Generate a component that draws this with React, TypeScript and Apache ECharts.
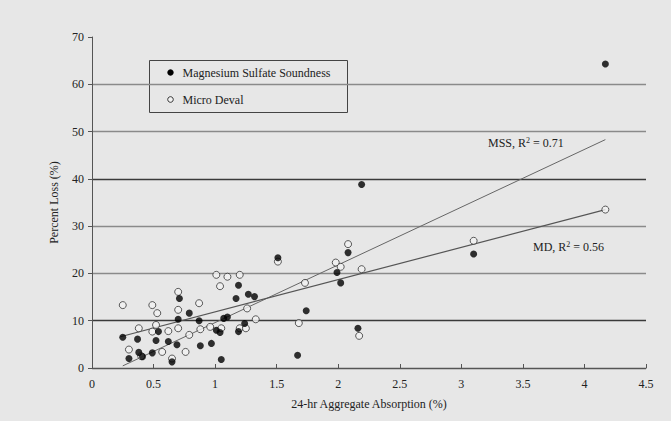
import React, { useEffect, useRef } from "react";
import * as echarts from "echarts";

// Magnesium Sulfate Soundness (filled) [absorption %, loss %]
const mssX = [0.25, 0.30, 0.37, 0.38, 0.41, 0.49, 0.52, 0.54, 0.62, 0.65, 0.69, 0.70, 0.71, 0.79, 0.87, 0.88, 0.97, 1.01, 1.04, 1.05, 1.07, 1.10, 1.17, 1.19, 1.19, 1.24, 1.27, 1.32, 1.51, 1.67, 1.74, 1.99, 2.02, 2.08, 2.16, 2.19, 3.10, 4.17];
const mssY = [6.5, 2.0, 6.1, 3.3, 2.4, 3.2, 5.8, 7.7, 5.6, 1.3, 4.9, 10.3, 14.7, 11.6, 10.0, 4.7, 5.2, 8.0, 7.5, 1.8, 10.5, 10.8, 14.7, 17.5, 7.7, 9.4, 15.6, 15.1, 23.3, 2.7, 12.1, 20.2, 18.0, 24.4, 8.4, 38.8, 24.1, 64.3];

// Micro Deval (open)
const mdX = [0.25, 0.30, 0.38, 0.40, 0.49, 0.49, 0.53, 0.52, 0.57, 0.62, 0.65, 0.70, 0.70, 0.70, 0.76, 0.79, 0.87, 0.88, 0.96, 1.01, 1.04, 1.05, 1.10, 1.20, 1.20, 1.25, 1.26, 1.33, 1.51, 1.68, 1.73, 1.98, 2.02, 2.08, 2.19, 2.17, 3.10, 4.17];
const mdY = [13.3, 3.9, 8.4, 2.5, 13.3, 7.7, 11.6, 9.1, 3.4, 7.8, 2.0, 16.1, 12.3, 8.4, 3.4, 7.0, 13.7, 8.2, 8.7, 19.7, 17.3, 8.4, 19.3, 19.7, 8.4, 8.4, 12.6, 10.3, 22.5, 9.5, 18.0, 22.3, 21.4, 26.2, 20.9, 6.8, 26.9, 33.5];

// Linear trend lines (end points)
const mssTrendX = [0.25, 4.17];
const mssTrendY = [0.45, 48.3];
const mdTrendX = [0.23, 4.17];
const mdTrendY = [6.6, 33.5];

const gridColors = ["#555", "#3a3a3a", "#8a8a8a", "#8a8a8a", "#3a3a3a", "#8a8a8a", "#8a8a8a", "rgba(0,0,0,0)"];

const seriesNames = ["Magnesium Sulfate Soundness", "Micro Deval"];
const font = "Liberation Serif";

const zip = (xs: number[], ys: number[]) => xs.map((x, i) => [x, ys[i]]);

const textFont = { fontFamily: font, fontSize: 12, fill: "#222" };

export default function App() {
  const ref = useRef<HTMLDivElement>(null);
  useEffect(() => {
    if (!ref.current) return;
    const chart = echarts.init(ref.current, null, { renderer: "svg" });
    chart.setOption({
      animation: false,
      backgroundColor: "#e7e7e7",
      textStyle: { fontFamily: font },
      grid: { left: 92, right: 25, top: 37, bottom: 53 },
      xAxis: {
        type: "value",
        min: 0,
        max: 4.5,
        interval: 0.5,
        name: "24-hr Aggregate Absorption (%)",
        nameLocation: "middle",
        nameGap: 30,
        nameTextStyle: { fontFamily: font, fontSize: 12, color: "#222" },
        axisLine: { show: true, lineStyle: { color: "#555" } },
        axisTick: { show: true, inside: true, length: 4, lineStyle: { color: "#555" } },
        axisLabel: {
          margin: 10,
          formatter: "{t|{value}}",
          rich: { t: { fontFamily: font, fontSize: 12, color: "#222" } },
        },
        splitLine: { show: false },
      },
      yAxis: {
        type: "value",
        min: 0,
        max: 70,
        interval: 10,
        name: "Percent Loss (%)",
        nameLocation: "middle",
        nameGap: 32,
        nameTextStyle: { fontFamily: font, fontSize: 12, color: "#222" },
        axisLine: { show: true, lineStyle: { color: "#555" } },
        axisTick: { show: true, length: 4, lineStyle: { color: "#555" } },
        axisLabel: {
          margin: 8,
          formatter: "{t|{value}}",
          rich: { t: { fontFamily: font, fontSize: 12, color: "#222" } },
        },
        splitLine: { show: true, lineStyle: { color: gridColors, width: 1.3 } },
      },
      series: [
        {
          name: "MSS trend",
          type: "line",
          data: zip(mssTrendX, mssTrendY),
          showSymbol: false,
          symbol: "none",
          lineStyle: { color: "#666", width: 1 },
          silent: true,
          z: 1,
        },
        {
          name: "MD trend",
          type: "line",
          data: zip(mdTrendX, mdTrendY),
          showSymbol: false,
          symbol: "none",
          lineStyle: { color: "#555", width: 1.2 },
          silent: true,
          z: 1,
        },
        {
          name: seriesNames[1],
          type: "scatter",
          data: zip(mdX, mdY),
          symbol: "circle",
          symbolSize: 7,
          itemStyle: { color: "#f2f2f2", borderColor: "#333", borderWidth: 1 },
          z: 3,
        },
        {
          name: seriesNames[0],
          type: "scatter",
          data: zip(mssX, mssY),
          symbol: "circle",
          symbolSize: 7,
          itemStyle: { color: "#000" },
          z: 4,
        },
      ],
      graphic: [
        {
          type: "group",
          left: 149,
          top: 60,
          z: 10,
          children: [
            { type: "rect", shape: { x: 0, y: 0, width: 198, height: 52 }, style: { fill: "#e7e7e7", stroke: "#444", lineWidth: 1 } },
            { type: "circle", shape: { cx: 21, cy: 12, r: 3.2 }, style: { fill: "#000" } },
            { type: "text", x: 33, y: 12, style: { ...textFont, text: seriesNames[0], verticalAlign: "middle" } },
            { type: "circle", shape: { cx: 21, cy: 39, r: 2.8 }, style: { fill: "#f2f2f2", stroke: "#333", lineWidth: 1 } },
            { type: "text", x: 33, y: 39, style: { ...textFont, text: seriesNames[1], verticalAlign: "middle" } },
          ],
        },
        {
          type: "text",
          left: 488,
          top: 136,
          style: {
            text: "{a|MSS, R}{s|2}{a| = 0.71}",
            rich: {
              a: { fontFamily: font, fontSize: 12, fill: "#222" },
              s: { fontFamily: font, fontSize: 8, fill: "#222", verticalAlign: "top", padding: [0, 0, 6, 0] },
            },
          },
        },
        {
          type: "text",
          left: 533,
          top: 240,
          style: {
            text: "{a|MD, R}{s|2}{a| = 0.56}",
            rich: {
              a: { fontFamily: font, fontSize: 12, fill: "#222" },
              s: { fontFamily: font, fontSize: 8, fill: "#222", verticalAlign: "top", padding: [0, 0, 6, 0] },
            },
          },
        },
      ],
    });
    return () => chart.dispose();
  }, []);
  return (
    <div
      ref={ref}
      style={{ position: "absolute", left: 0, top: 0, width: 671, height: 421 }}
    />
  );
}
